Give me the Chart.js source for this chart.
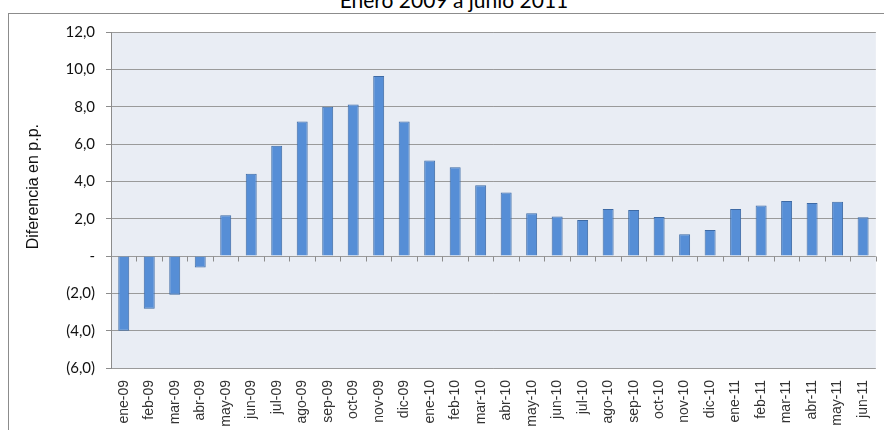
<!DOCTYPE html>
<html>
<head>
<meta charset="utf-8">
<script src="https://cdn.jsdelivr.net/npm/chart.js@4.4.0/dist/chart.umd.min.js"></script>
<style>
    body { margin: 0; background: #fff; overflow: hidden; }
    #wrap { position: relative; width: 884px; height: 430px; overflow: hidden; }
    #frame { position: absolute; left: 8px; top: 13px; width: 900px; height: 440px; border: 1px solid #8c8c8c; }
    #title { position: absolute; left: 24px; right: 0; top: -11px; text-align: center; font: 21px/21px Lato, sans-serif; color: #000; }
    canvas { position: absolute; left: 0; top: 0; }
</style>
</head>
<body>
<div id="wrap">
    <div id="frame"></div>
    <div id="title">Enero 2009 a junio 2011</div>
    <canvas id="chart" width="884" height="430"></canvas>
</div>
<script>
const months = ["ene-09", "feb-09", "mar-09", "abr-09", "may-09", "jun-09", "jul-09", "ago-09", "sep-09", "oct-09", "nov-09", "dic-09",
    "ene-10", "feb-10", "mar-10", "abr-10", "may-10", "jun-10", "jul-10", "ago-10", "sep-10", "oct-10", "nov-10", "dic-10",
    "ene-11", "feb-11", "mar-11", "abr-11", "may-11", "jun-11"];
const diferencia = [-4.0, -2.82, -2.07, -0.62, 2.18, 4.41, 5.91, 7.2, 8.0, 8.12, 9.64, 7.2,
    5.11, 4.75, 3.79, 3.4, 2.29, 2.11, 1.93, 2.52, 2.46, 2.09, 1.16, 1.39,
    2.52, 2.7, 2.95, 2.84, 2.9, 2.07];
const yMin = -6, yMax = 12, yStep = 2;

function fmt(v) {
    if (v === 0) return "-";
    const s = Math.abs(v).toFixed(1).replace(".", ",");
    return v < 0 ? "(" + s + ")" : s;
}

// plot background + small ticks on the zero line
const plotDeco = {
    id: "plotDeco",
    beforeDraw(chart) {
        const { ctx, chartArea: a } = chart;
        ctx.save();
        ctx.fillStyle = "#e9edf4";
        ctx.fillRect(a.left, a.top, a.right - a.left, a.bottom - a.top);
        ctx.restore();
    },
    beforeDatasetsDraw(chart) {
        const { ctx, scales } = chart;
        const x = scales.x, y0 = Math.round(scales.y.getPixelForValue(0)) + 0.5;
        const half = (x.getPixelForValue(1) - x.getPixelForValue(0)) / 2;
        ctx.save();
        ctx.strokeStyle = "#8c8c8c";
        ctx.lineWidth = 1;
        ctx.beginPath();
        for (let i = 0; i < months.length; i++) {
            const px = Math.round(x.getPixelForValue(i) + half) + 0.5;
            ctx.moveTo(px, y0);
            ctx.lineTo(px, y0 + 5);
        }
        ctx.stroke();
        ctx.restore();
    }
};

new Chart(document.getElementById("chart"), {
    type: "bar",
    data: {
        labels: months,
        datasets: [{
            data: diferencia,
            backgroundColor: "#568ed6",
            borderColor: "#3d6aa5",
            borderWidth: 1,
            barPercentage: 0.43,
            categoryPercentage: 1
        }]
    },
    options: {
        responsive: false,
        animation: false,
        layout: { padding: { left: 8, top: 32, right: 6, bottom: 0 } },
        plugins: { legend: { display: false }, tooltip: { enabled: false } },
        scales: {
            x: {
                offset: true,
                grid: { display: false },
                border: { display: false },
                ticks: {
                    minRotation: 90, maxRotation: 90, autoSkip: false, padding: 4,
                    color: "#333", font: { family: "Arial, 'Liberation Sans', sans-serif", size: 14 }
                },
                afterFit: s => { s.height = 62; }
            },
            y: {
                min: yMin, max: yMax,
                border: { display: true, color: "#8c8c8c" },
                grid: { color: "#9a9a9a", tickLength: 5, tickColor: "#8c8c8c" },
                ticks: {
                    stepSize: yStep, padding: 11, color: "#111",
                    font: { family: "Lato", size: 15 },
                    callback: v => fmt(v)
                },
                title: {
                    display: true, text: "      Diferencia en p.p.", color: "#111",
                    font: { family: "Arial, 'Liberation Sans', sans-serif", size: 16 },
                    padding: { top: 16, bottom: 0 }
                },
                afterFit: s => { s.width = 103; }
            }
        }
    },
    plugins: [plotDeco]
});
</script>
</body>
</html>
